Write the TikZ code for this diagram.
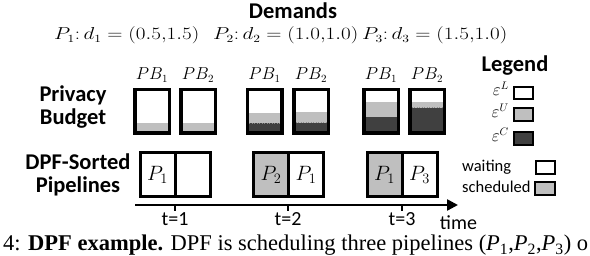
\documentclass[tikz,border=0pt]{standalone}
\usepackage{fontspec}
\setmainfont{Liberation Serif}
\setsansfont{Carlito}
\usetikzlibrary{arrows.meta}
\definecolor{lgray}{HTML}{BFBFBF}
\definecolor{dgray}{HTML}{404040}
\definecolor{mgray}{HTML}{8C8C8C}
\tikzset{
  hdr/.style={font=\sffamily\bfseries\fontsize{22.5}{23}\selectfont, align=center, inner sep=0pt},
  lbl/.style={font=\sffamily\fontsize{20}{22}\selectfont, inner sep=0pt},
  leg/.style={font=\sffamily\fontsize{16.5}{18}\selectfont, inner sep=0pt},
  mth/.style={font=\fontsize{16}{18}\selectfont, inner sep=0pt},
  bbox/.style={draw, line width=3.5pt, minimum width=34.5pt, minimum height=43.5pt, inner sep=0pt},
  cell/.style={draw, line width=3pt, minimum width=35pt, minimum height=44pt, inner sep=0pt, font=\fontsize{22}{24}\selectfont},
  lbox/.style={draw, line width=2pt, minimum width=19pt, minimum height=12.5pt, inner sep=0pt},
  axis/.style={line width=2.5pt},
  sep/.style={mgray, dotted, line width=0.5pt},
}
\newcommand{\capP}[1]{\textit{P}\textsubscript{#1}}
\begin{document}
\begin{tikzpicture}[x=1pt,y=-1pt]
\useasboundingbox (0,0) rectangle (590,256);
% title and demands
\node[hdr] (dem) at (293,11) {Demands};
\node[mth, anchor=base west] (d1) at (54,40) {\scalebox{1.22}[1]{$P_1\colon d_1=(0.5{,}1.5)$}};
\node[mth, anchor=base west] (d2) at (213,40) {\scalebox{1.22}[1]{$P_2\colon d_2=(1.0{,}1.0)$}};
\node[mth, anchor=base west] (d3) at (362,40) {\scalebox{1.22}[1]{$P_3\colon d_3=(1.5{,}1.0)$}};
% row labels
\node[hdr] (rpb) at (73,107) {Privacy\\Budget};
\node[hdr] (rdp) at (78,175) {DPF-Sorted\\Pipelines};
% PB headers
\foreach \cx/\n in {152/11,198/12,264.5/21,311/22,381/31,427/32}{
  \node[mth] (h\n) at (\cx,75) {$PB_{\pgfmathparse{int(mod(\n,10))}\pgfmathresult}$};
}
% budget fills
% group 1
\fill[lgray] (134,123.3) rectangle (170,133);
\fill[lgray] (180,123.3) rectangle (216,133);
% group 2
\fill[lgray] (246.5,113.3) rectangle (282.5,133);
\fill[dgray] (246.5,123.3) rectangle (282.5,133);
\draw[sep] (246.5,123.3) -- (282.5,123.3);
\fill[lgray] (293,112.5) rectangle (329,133);
\fill[dgray] (293,122.7) rectangle (329,133);
\draw[sep] (293,122.7) -- (329,122.7);
% group 3
\fill[lgray] (363,101.7) rectangle (399,133);
\fill[dgray] (363,117.3) rectangle (399,133);
\fill[lgray] (409,101.7) rectangle (445,133);
\fill[dgray] (409,107.7) rectangle (445,133);
\draw[sep] (409,107.7) -- (445,107.7);
% budget boxes
\foreach \cx/\n in {152/11,198/12,264.5/21,311/22,381/31,427/32}{
  \node[bbox] (b\n) at (\cx,111.5) {};
}
% pipeline cells
\node[cell] (c11) at (157.5,174.5) {$P_1$};
\node[cell] (c12) at (192.5,174.5) {};
\node[cell, fill=lgray] (c21) at (271,174.5) {$P_2$};
\node[cell] (c22) at (306,174.5) {$P_1$};
\node[cell, fill=lgray] (c31) at (384.5,174.5) {$P_1$};
\node[cell] (c32) at (419.5,174.5) {$P_3$};
% axis
\coordinate (a0) at (135,205);
\coordinate (a1) at (458,205);
\draw[axis, -{Triangle[length=11pt,width=11pt]}] (a0) -- (a1);
\foreach \x/\t in {175/1,288/2,402/3}{
  \coordinate (tk\t) at (\x,205);
  \coordinate (tb\t) at (\x,211);
  \draw[axis] (tk\t) -- (tb\t);
  \node[lbl] (tl\t) at (\x,219.5) {t=\t};
}
\node[lbl] (time) at (458.5,223) {time};
% legend
\node[hdr] (lg) at (515,66) {Legend};
\node[lbox] (lL) at (523.5,93) {};
\node[lbox, fill=lgray] (lU) at (523.5,114.5) {};
\node[lbox, fill=dgray] (lC) at (523.5,138.5) {};
\node[mth, anchor=base east] (eL) at (509,96) {$\varepsilon^L$};
\node[mth, anchor=base east] (eU) at (509,117.5) {$\varepsilon^U$};
\node[mth, anchor=base east] (eC) at (509,141.5) {$\varepsilon^C$};
\node[leg, anchor=west] (wt) at (462,167) {waiting};
\node[leg, anchor=west] (sc) at (462,187) {scheduled};
\node[lbox, minimum width=19pt, minimum height=13pt] (lw) at (545,167.5) {};
\node[lbox, fill=lgray, minimum width=20pt, minimum height=13pt] (ls) at (544.5,188.5) {};
% caption
\node[anchor=base west, inner sep=0pt, font=\fontsize{22.5}{25}\selectfont] (cap) at (3,251) {4: \textbf{DPF example.} DPF is scheduling three pipelines (\capP{1},\capP{2},\capP{3}) o};
\end{tikzpicture}
\end{document}
